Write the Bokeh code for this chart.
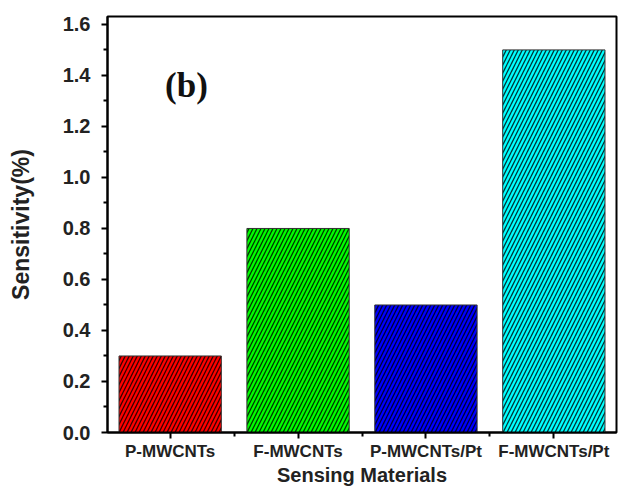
from bokeh.plotting import figure
from bokeh.models import FixedTicker, Label, Range1d, ColumnDataSource, CustomJSTickFormatter
from bokeh.embed import file_html
from bokeh.resources import INLINE

categories = ["P-MWCNTs", "F-MWCNTs", "P-MWCNTs/Pt", "F-MWCNTs/Pt"]
sensitivity = [0.3, 0.8, 0.5, 1.5]
bar_colors = ["#FF0000", "#00FF00", "#0000FF", "#00FFFF"]
y_ticks = [0.0, 0.2, 0.4, 0.6, 0.8, 1.0, 1.2, 1.4, 1.6]

positions = list(range(1, len(categories) + 1))
src = ColumnDataSource(dict(x=positions, top=sensitivity, color=bar_colors))

p = figure(width=623, height=488, output_backend="svg", toolbar_location=None,
           x_range=Range1d(0.51, 4.49), y_range=Range1d(0, 1.631),
           min_border_left=107, min_border_right=7, min_border_top=16, min_border_bottom=55)
p.background_fill_color = "white"
p.border_fill_color = "white"
p.grid.visible = False
p.outline_line_color = "black"
p.outline_line_width = 2

p.vbar(x="x", top="top", bottom=0, width=0.8, source=src, fill_color="color",
       line_color="#333333", line_width=1,
       hatch_pattern="/", hatch_color="black", hatch_scale=8, hatch_weight=1.3, hatch_alpha=0.8)

fnt = "Liberation Sans"
xa = p.xaxis[0]
xa.ticker = FixedTicker(ticks=positions, minor_ticks=[1.5, 2.5, 3.5])
xa.major_label_overrides = {i: c for i, c in zip(positions, categories)}
xa.axis_label = "Sensing Materials"
ya = p.yaxis[0]
ya.ticker = FixedTicker(ticks=y_ticks, minor_ticks=[0.1 + 0.2 * i for i in range(8)])
ya.formatter = CustomJSTickFormatter(code="return tick.toFixed(1);")
ya.axis_label = "Sensitivity(%)"

for ax in (xa, ya):
    ax.axis_line_width = 2
    ax.axis_line_color = "black"
    ax.major_tick_line_width = 2
    ax.minor_tick_line_width = 2
    ax.major_tick_in = 0
    ax.major_tick_out = 6
    ax.minor_tick_in = 0
    ax.minor_tick_out = 4
    ax.major_label_text_font = fnt
    ax.major_label_text_font_style = "bold"
    ax.major_label_text_color = "#222222"
    ax.axis_label_text_font = fnt
    ax.axis_label_text_font_style = "bold"
    ax.axis_label_text_color = "#222222"

xa.major_label_text_font_size = "17px"
xa.major_label_standoff = 3
xa.axis_label_text_font_size = "20px"
xa.axis_label_standoff = 0
ya.major_label_text_font_size = "20px"
ya.major_label_standoff = 11
ya.axis_label_text_font_size = "23px"
ya.axis_label_standoff = 26

p.add_layout(Label(x=0.96, y=1.36, text="(b)", text_font="Liberation Serif",
                   text_font_style="bold", text_font_size="35px", text_color="#111111",
                   text_baseline="middle", text_align="left"))

open("out.html", "w").write(file_html(p, INLINE))
